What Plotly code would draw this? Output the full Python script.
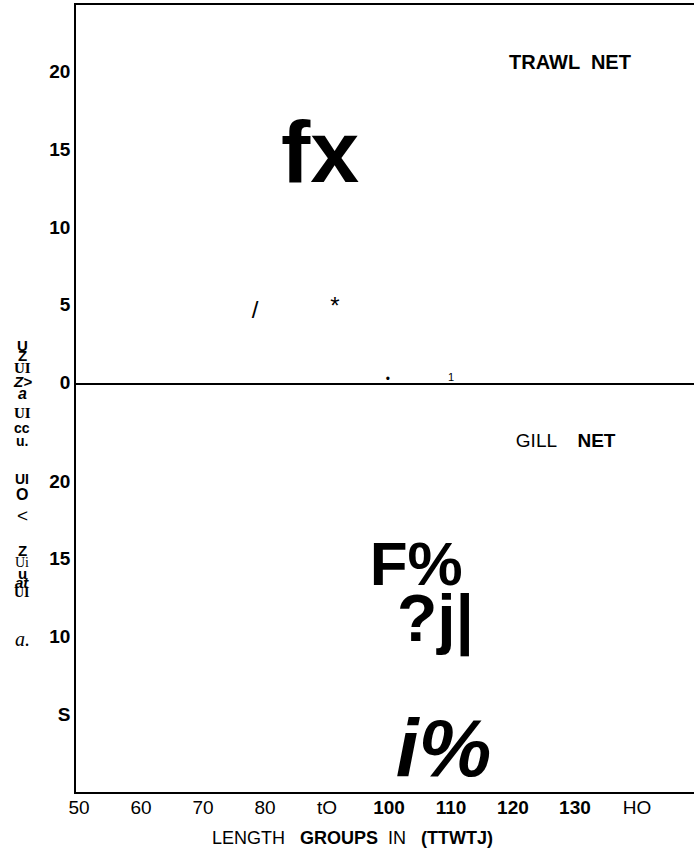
import plotly.graph_objects as go
from plotly.subplots import make_subplots

# ---- data ----
x_tick_vals = [50, 60, 70, 80, 90, 100, 110, 120, 130, 140]
x_tick_text = ["50", "60", "70", "80", "tO", "<b>100</b>", "<b>110</b>", "<b>120</b>", "<b>130</b>", "HO"]
top_tick_vals = [0, 5, 10, 15, 20]
top_tick_text = ["0", "5", "10", "15", "20"]
bot_tick_vals = [5, 10, 15, 20]
bot_tick_text = ["S", "10", "15", "20"]

top_labels = ["<b>TRAWL  NET</b>", "<b>fx</b>", "/", "*", "•", "1"]
top_x = [129.2, 88.9, 78.4, 91.3, 99.8, 110.0]
top_y = [20.5, 14.3, 4.5, 4.8, 0.12, 0.25]
top_size = [20, 88, 24, 24, 12, 11]

bot_labels = ["GILL    <b>NET</b>", "<b>F%</b>", "<b>?j|</b>", "<b><i>i%</i></b>"]
bot_x = [128.5, 104.4, 107.5, 108.8]
bot_y = [22.5, 14.3, 10.8, 2.35]
bot_size = [19, 62, 66, 82]

side_text = ["<b>U</b>", "<b>Z</b>", "<b>UI</b>", "<b><i>Z></i></b>", "<b><i>a</i></b>", "<b>UI</b>", "<b>cc</b>",
             "<b>u.</b>", "<b>UI</b>", "<b>O</b>", "<", "<b>Z</b>", "Ui", "<b>u</b>", "<b><i>at</i></b>",
             "<b>UI</b>", "<i>a.</i>"]
side_y_px = [345, 355, 368, 381, 393, 413, 428, 441, 479, 494, 515, 550, 562, 573, 582, 592, 639]
side_font = ["s", "s", "r", "s", "s", "r", "s", "s", "s", "s", "s", "s", "r", "s", "s", "r", "r"]
side_size = [15, 15, 15, 15, 16, 15, 14, 14, 14, 16, 19, 15, 14, 15, 15, 14, 20]

SANS = "Liberation Sans, Arial, sans-serif"
SERIF = "Liberation Serif, Times New Roman, serif"

W, H = 694, 849
ML, MR, MT, MB = 76, 0, 5, 57
split = (792 - 383) / (792 - 5)

fig = make_subplots(rows=2, cols=1, shared_xaxes=False, vertical_spacing=0)

fig.add_trace(go.Scatter(x=top_x, y=top_y, mode="text", text=top_labels,
                         textposition="middle center",
                         textfont=dict(family=SANS, size=top_size, color="black"),
                         hoverinfo="skip", showlegend=False), row=1, col=1)
fig.add_trace(go.Scatter(x=bot_x, y=bot_y, mode="text", text=bot_labels,
                         textposition="middle center",
                         textfont=dict(family=SANS, size=bot_size, color="black"),
                         hoverinfo="skip", showlegend=False), row=2, col=1)

xr = [49.52, 149.2]
tickfont = dict(family=SANS, size=19, color="black")
fig.update_layout(
    width=W, height=H, margin=dict(l=ML, r=MR, t=MT, b=MB),
    paper_bgcolor="white", plot_bgcolor="white", showlegend=False,
    xaxis=dict(domain=[0, 1], range=xr, anchor="y", showticklabels=False, ticks="",
               showgrid=False, zeroline=False, showline=True, linecolor="black",
               linewidth=1.5, mirror=True),
    yaxis=dict(domain=[split, 1], range=[-0.05, 24.3], anchor="x", showgrid=False,
               zeroline=False, showline=True, linecolor="black", linewidth=1.5,
               tickvals=top_tick_vals, ticktext=["<b>%s</b>" % t for t in top_tick_text],
               ticks="", tickfont=tickfont, ticklabelstandoff=0),
    xaxis2=dict(domain=[0, 1], range=xr, anchor="y2", showgrid=False, zeroline=False,
                showline=True, linecolor="black", linewidth=1.5, ticks="",
                tickvals=x_tick_vals, ticktext=x_tick_text, tickfont=tickfont,
                ticklabelstandoff=-3),
    yaxis2=dict(domain=[0, split], range=[0, 26.3], anchor="x2", showgrid=False,
                zeroline=False, showline=True, linecolor="black", linewidth=1.5,
                tickvals=bot_tick_vals, ticktext=["<b>%s</b>" % t for t in bot_tick_text],
                ticks="", tickfont=tickfont, ticklabelstandoff=0),
)

annotations = []
for txt, ypx, fam, sz in zip(side_text, side_y_px, side_font, side_size):
    annotations.append(dict(text=txt, xref="paper", yref="paper",
                            x=(22 - ML) / (W - ML - MR), y=(792 - ypx) / (792 - 5),
                            xanchor="center", yanchor="middle", showarrow=False,
                            font=dict(family=SANS if fam == "s" else SERIF, size=sz, color="black")))
annotations.append(dict(text="LENGTH   <b>GROUPS</b>  IN   <b>(TTWTJ)</b>", xref="paper", yref="paper",
                        x=(352 - ML) / (W - ML - MR), y=(792 - 838) / (792 - 5),
                        xanchor="center", yanchor="middle", showarrow=False,
                        font=dict(family=SANS, size=18, color="black")))
fig.update_layout(annotations=annotations)

fig.write_html("out.html")
